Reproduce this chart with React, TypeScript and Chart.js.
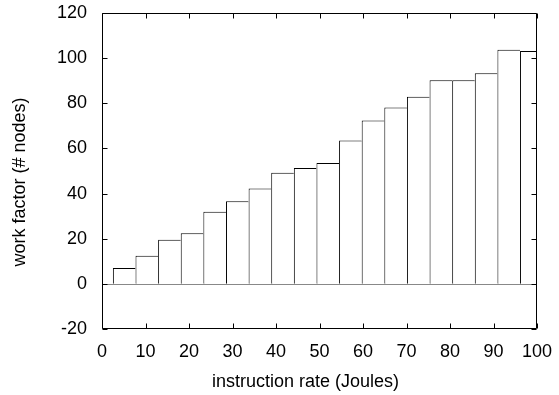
import React, { useEffect, useRef } from 'react';
import { Chart, registerables } from 'chart.js';

Chart.register(...registerables);

// bar centres along the x axis (instruction rate, Joules)
const instructionRate = [5.1, 10.3, 15.5, 20.7, 25.9, 31.1, 36.3, 41.5, 46.7, 51.9, 57.1, 62.3, 67.5, 72.7, 77.9, 83.1, 88.3, 93.5, 98.7];
// bar heights (work factor, # nodes)
const workFactor = [7, 12.4, 19.5, 22.4, 31.9, 36.6, 42.2, 49.2, 51.3, 53.5, 63.5, 72.4, 78.1, 82.9, 90.2, 90.2, 93.3, 103.7, 103.2];

const xTicks = [0, 10, 20, 30, 40, 50, 60, 70, 80, 90, 100];
const yTicks = [-20, 0, 20, 40, 60, 80, 100, 120];

const xTitle = 'instruction rate (Joules)';
const yTitle = 'work factor (# nodes)';

const FONT = "'Liberation Sans', Arial, Helvetica, sans-serif";
const FS = 18;

const framePlugin = {
  id: 'gnuplotFrame',
  afterDatasetsDraw(chart: any) {
    const { ctx, chartArea: a, scales } = chart;
    const L = Math.round(a.left) + 0.5;
    const R = Math.round(a.right) - 0.5;
    const T = Math.round(a.top) + 0.5;
    const B = Math.round(a.bottom) - 0.5;
    const y0 = Math.round(scales.y.getPixelForValue(0)) + 0.5;
    ctx.save();
    ctx.strokeStyle = '#888888';
    ctx.lineWidth = 1;
    ctx.beginPath();
    ctx.moveTo(L, y0);
    ctx.lineTo(R, y0);
    ctx.stroke();
    ctx.strokeStyle = '#000000';
    ctx.beginPath();
    ctx.rect(L, T, R - L, B - T);
    const len = 5;
    for (const v of xTicks) {
      const px = Math.round(scales.x.getPixelForValue(v)) + 0.5;
      ctx.moveTo(px, B);
      ctx.lineTo(px, B - len);
      ctx.moveTo(px, T);
      ctx.lineTo(px, T + len);
    }
    for (const v of yTicks) {
      const py = Math.round(scales.y.getPixelForValue(v)) + 0.5;
      ctx.moveTo(L, py);
      ctx.lineTo(L + len, py);
      ctx.moveTo(R, py);
      ctx.lineTo(R - len, py);
    }
    ctx.stroke();

    // axis titles (placed like gnuplot: slightly off the plot centre)
    ctx.fillStyle = '#000';
    ctx.font = `${FS}px ${FONT}`;
    ctx.textAlign = 'center';
    ctx.textBaseline = 'middle';
    ctx.fillText(xTitle, (a.left + a.right) / 2 - 14, a.bottom + 53);
    ctx.translate(20, (a.top + a.bottom) / 2 + 11);
    ctx.rotate(-Math.PI / 2);
    ctx.fillText(yTitle, 0, 0);
    ctx.restore();
  },
};

export default function App() {
  const ref = useRef<HTMLCanvasElement | null>(null);

  useEffect(() => {
    if (!ref.current) return;
    const chart = new Chart(ref.current, {
      type: 'bar',
      data: {
        datasets: [
          {
            data: instructionRate.map((x, i) => ({ x, y: workFactor[i] })),
            backgroundColor: '#ffffff',
            borderColor: '#000000',
            borderWidth: { left: 1, top: 1, right: 0, bottom: 0 } as any,
            borderSkipped: false,
            barPercentage: 1,
            categoryPercentage: 1,
            inflateAmount: 0,
          } as any,
        ],
      },
      options: {
        responsive: false,
        animation: false,
        layout: { padding: { top: 13, right: 22, bottom: 0, left: 0 } },
        plugins: { legend: { display: false }, tooltip: { enabled: false } },
        scales: {
          x: {
            type: 'linear',
            offset: false,
            min: 0,
            max: 100,
            grid: { display: false, drawTicks: false, tickLength: 0 },
            border: { display: false },
            ticks: {
              stepSize: 10,
              color: '#000',
              padding: 12,
              maxRotation: 0,
              autoSkip: false,
              font: { family: FONT, size: FS },
            },
            title: { display: false },
            afterFit(scale: any) {
              scale.height = 66;
              scale.paddingLeft = 0;
              scale.paddingRight = 0;
            },
          },
          y: {
            type: 'linear',
            min: -20,
            max: 120,
            grid: { display: false, drawTicks: false, tickLength: 0 },
            border: { display: false },
            ticks: {
              stepSize: 20,
              color: '#000',
              padding: 15,
              font: { family: FONT, size: FS },
            },
            title: { display: false },
            afterFit(scale: any) {
              scale.width = 102;
              scale.paddingTop = 0;
              scale.paddingBottom = 0;
            },
          },
        },
      },
      plugins: [framePlugin],
    });
    return () => chart.destroy();
  }, []);

  return (
    <div style={{ position: 'absolute', left: 0, top: 0, width: 559, height: 395, background: '#fff' }}>
      <canvas ref={ref} width={559} height={395} style={{ display: 'block' }} />
    </div>
  );
}
